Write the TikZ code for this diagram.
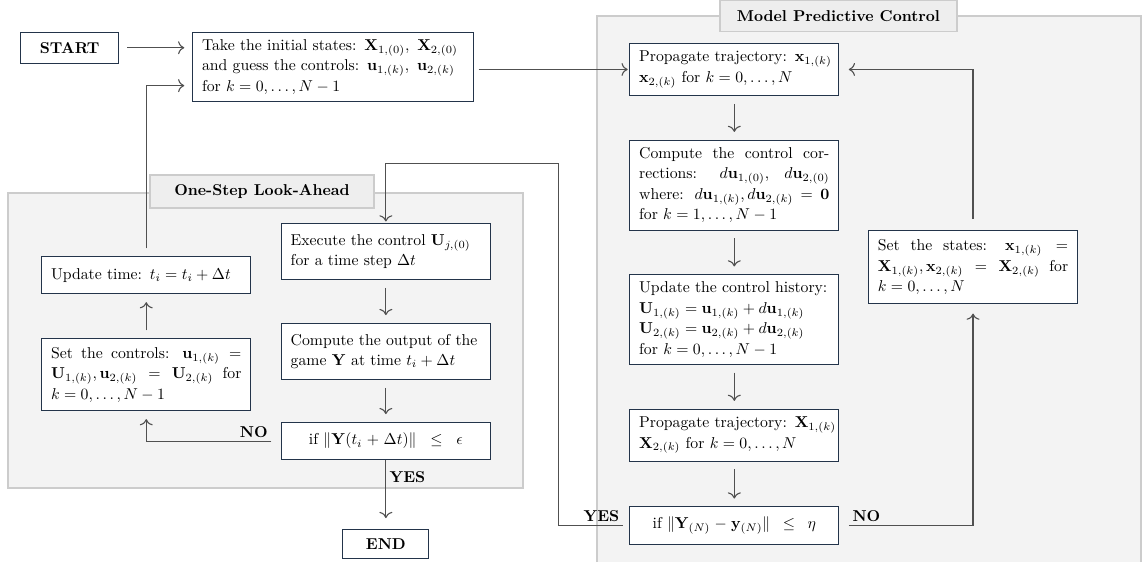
\documentclass[tikz,border=0pt]{standalone}
\usepackage{amsmath,amssymb}
\usetikzlibrary{arrows.meta,positioning,calc}

\definecolor{boxline}{HTML}{23344A}
\definecolor{panelfill}{HTML}{F3F3F3}
\definecolor{panelline}{HTML}{CCCCCC}
\definecolor{titlefill}{HTML}{EEEEEE}
\definecolor{wire}{HTML}{505050}

\begin{document}
\begin{tikzpicture}
[node distance = 1cm, auto, font=\fontsize{10}{13}\selectfont,
>={Computer Modern Rightarrow[scale=1.25]},
% STYLES
% The stage style is used for the boxes of the flow chart
stage/.style={rectangle, draw=boxline, fill=white, line width=0.6pt, inner xsep=0.21cm, inner ysep=4.5pt, text width=4.25cm, minimum height=0.83cm, align=justify},
% The terminal style is used for START and END
terminal/.style={rectangle, draw=boxline, fill=white, line width=0.6pt, font=\bfseries, minimum height=0.69cm},
% The panel styles are used for the two grey regions and their titles
panel/.style={fill=panelfill, draw=panelline, line width=1.2pt},
paneltitle/.style={rectangle, fill=titlefill, draw=panelline, line width=1pt, font=\bfseries, minimum height=0.70cm},
% The flow style is used for the short arrows, the loop style for the long ones
flow/.style={->, draw=wire, line width=0.7pt, shorten <=5pt, shorten >=5pt},
loop/.style={->, draw=wire, line width=0.7pt},
answer/.style={font=\bfseries, inner sep=2pt}]

\useasboundingbox (0,0) rectangle (25.61,-12.55);

% Draw panels
\fill[panelfill] (13.33,-0.36) rectangle (25.48,-12.55);
\draw[panelline, line width=1.2pt] (13.33,-12.55) |- (25.48,-0.36) -- (25.48,-12.55);
\draw[panel] (0.18,-4.31) rectangle (11.68,-10.90);
\node[paneltitle, minimum width=5.29cm] (mpctitle) at (18.72,-0.35) {Model Predictive Control};
\node[paneltitle, minimum width=5.0cm, minimum height=0.74cm] (osltitle) at (5.85,-4.28) {One-Step Look-Ahead};

% Draw start
\node [terminal, minimum width=2.19cm, anchor=north west] (start) at (0.45,-0.71) {START};
\node [stage, text width=5.85cm, align=left, anchor=north west] (init) at (4.29,-0.71) {Take the initial states: $\mathbf{X}_{1,(0)},\ \mathbf{X}_{2,(0)}$\\
and guess the controls: $\mathbf{u}_{1,(k)},\ \mathbf{u}_{2,(k)}$\\
for $k=0,\dots,N-1$};

% MODEL PREDICTIVE CONTROL
\node [stage, align=left, minimum height=1.16cm, anchor=north west] (prop1) at (14.05,-0.96) {\mbox{Propagate trajectory: $\mathbf{x}_{1,(k)}$}\\
$\mathbf{x}_{2,(k)}$ for $k=0,\dots,N$};
\node [stage, below=0.98cm of prop1] (corr) {Compute the control corrections: $d\mathbf{u}_{1,(0)}$, $d\mathbf{u}_{2,(0)}$ where: $d\mathbf{u}_{1,(k)},d\mathbf{u}_{2,(k)}=\mathbf{0}$ for $k=1,\dots,N-1$};
\node [stage, align=left, below=0.98cm of corr] (hist) {Update the control history:\\
$\mathbf{U}_{1,(k)}=\mathbf{u}_{1,(k)}+d\mathbf{u}_{1,(k)}$\\
$\mathbf{U}_{2,(k)}=\mathbf{u}_{2,(k)}+d\mathbf{u}_{2,(k)}$\\
for $k=0,\dots,N-1$};
\node [stage, align=left, minimum height=1.16cm, below=0.98cm of hist] (prop2) {\mbox{Propagate trajectory: $\mathbf{X}_{1,(k)}$}\\
$\mathbf{X}_{2,(k)}$ for $k=0,\dots,N$};
\node [stage, align=center, below=1.0cm of prop2] (ifeta) {if $\|\mathbf{Y}_{(N)}-\mathbf{y}_{(N)}\|\;\leq\;\eta$};
\node [stage, minimum height=1.63cm, anchor=north west] (setstates) at (19.38,-5.14) {Set the states: $\mathbf{x}_{1,(k)}=\mathbf{X}_{1,(k)}, \mathbf{x}_{2,(k)}=\mathbf{X}_{2,(k)}$ for $k=0,\dots,N$};

% ONE-STEP LOOK-AHEAD
\node [stage, align=left, minimum height=1.25cm, anchor=north west] (exec) at (6.27,-4.98) {Execute the control $\mathbf{U}_{j,(0)}$ for a time step $\Delta t$};
\node [stage, align=left, minimum height=1.25cm, below=0.96cm of exec] (output) {Compute the output of the game $\mathbf{Y}$ at time $t_i+\Delta t$};
\node [stage, align=center, below=0.94cm of output] (ifeps) {if $\|\mathbf{Y}(t_i+\Delta t)\|\;\leq\;\epsilon$};
\node [terminal, minimum width=1.92cm, minimum height=0.65cm, below=1.54cm of ifeps] (finish) {END};
\node [stage, align=left, anchor=north west] (uptime) at (0.92,-5.72) {Update time: $t_i=t_i+\Delta t$};
\node [stage, minimum height=1.61cm, below=0.98cm of uptime] (setctrl) {Set the controls: $\mathbf{u}_{1,(k)}=\mathbf{U}_{1,(k)}, \mathbf{u}_{2,(k)}=\mathbf{U}_{2,(k)}$ for $k=0,\dots,N-1$};

% Draw the links between boxes
\draw[flow] (start.east) -- (start.east -| init.west);
\draw[flow, shorten <=3pt, shorten >=1pt] (init.east |- prop1.west) -- (prop1.west);
\path[flow]
(prop1) edge (corr)
(corr) edge (hist)
(hist) edge (prop2)
(prop2) edge (ifeta)
(exec) edge (output)
(output) edge (ifeps)
(setctrl) edge (uptime);

% Loops and answers
\draw[loop, shorten >=7pt] (ifeps.south) -- node[answer, right, pos=0.25] {YES} (finish.north);
\draw[loop] ([xshift=-6pt]ifeps.west) -| node[answer, above left, pos=0] {NO} ([yshift=-5pt]setctrl.south);
\draw[loop] ([yshift=5pt]uptime.north) |- ([xshift=-5pt,yshift=-0.42cm]init.west);
\draw[loop] ([xshift=6pt]ifeta.east) -| node[answer, above right, pos=0] {NO} ([yshift=-6pt]setstates.south);
\draw[loop] ([yshift=7pt]setstates.north) |- ([xshift=6pt]prop1.east);
\draw[loop, shorten >=1pt] ([xshift=-4pt]ifeta.west) -- node[answer, above left, pos=0] {YES} ++(-1.43,0) |- ([yshift=1.32cm]exec.north) -- (exec.north);

\end{tikzpicture}
\end{document}
